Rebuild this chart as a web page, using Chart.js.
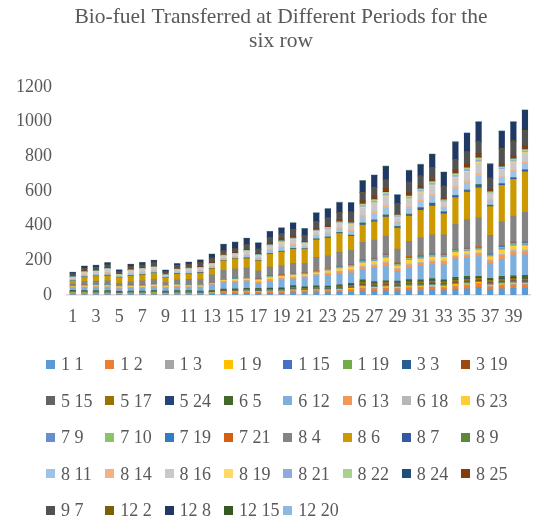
<!DOCTYPE html>
<html>
<head>
<meta charset="utf-8">
<script src="https://cdn.jsdelivr.net/npm/chart.js@4.4.1/dist/chart.umd.min.js"></script>
<style>
  body { margin: 0; background: #fff; }
  #wrap { position: relative; width: 536px; height: 522px; }
  #legend { position: absolute; left: 0; top: 0; width: 536px; height: 522px; pointer-events: none;
            font-family: "Liberation Serif", "Times New Roman", serif; font-size: 18px; color: #595959; }
  .item { position: absolute; height: 20px; line-height: 20px; white-space: nowrap; }
  .item .box { position: absolute; left: 0; top: 5.5px; width: 9px; height: 9px; }
  .item .txt { position: absolute; left: 15px; top: 0; }
</style>
</head>
<body>
<div id="wrap">
  <canvas id="chart" width="536" height="522"></canvas>
  <div id="legend"></div>
</div>
<script>
const periods = [];
for (let i = 1; i <= 40; i++) periods.push(String(i));

const titleLines = ["Bio-fuel Transferred at Different Periods for the", "six row"];
const yTicks = [0, 200, 400, 600, 800, 1000, 1200];

// series values
const s1_1  = [3,3,3,3,2,3,3,3,2,3,3,3,5,8,9,10,9,10,10,13,12,14,13,15,17,22,21,24,22,25,26,28,25,32,35,44,30,36,38,40];
const s1_2  = [5,5,4,4,4,4,4,5,4,4,4,4,5,6,7,7,7,8,8,10,9,10,10,11,12,15,13,14,13,15,15,16,15,17,18,19,16,18,19,19];
const s1_3  = [2,2,2,2,1,2,2,2,2,2,2,1,2,2,2,2,2,2,2,3,2,3,3,3,4,5,4,4,4,5,4,5,5,5,5,4,5,5,5,4];
const s1_9  = [2,2,2,2,2,2,2,2,2,2,2,2,2,2,2,3,3,3,3,4,3,4,4,4,5,7,6,6,6,7,7,7,7,7,8,6,7,7,8,6];
const s1_15 = [1,1,1,1,1,1,1,1,1,1,1,1,1,1,1,1,1,1,1,2,2,2,2,2,2,3,3,3,3,3,3,3,3,3,3,3,3,3,3,3];
const s1_19 = [1,1,1,1,1,1,1,1,1,1,1,1,1,1,1,1,1,1,1,2,2,2,2,2,2,3,2,3,3,3,3,3,3,3,3,3,3,3,3,3];
const s3_3  = [1,1,1,1,1,1,1,1,1,1,1,1,1,1,1,1,1,1,1,1,1,1,1,1,2,2,2,2,2,2,2,2,2,2,2,2,2,2,2,2];
const s3_19 = [1,1,1,1,1,1,1,1,1,1,1,1,1,1,1,1,1,1,1,2,1,2,2,2,2,3,2,3,3,3,3,3,3,3,3,3,3,3,3,3];
const s5_15 = [1,1,1,1,1,1,1,1,1,1,1,1,1,2,2,2,2,2,2,2,2,2,2,3,3,4,4,4,4,4,4,4,4,4,4,4,4,4,4,4];
const s5_17 = [4,4,4,4,3,3,3,4,3,4,4,3,3,3,4,4,4,4,4,5,5,5,5,6,7,10,9,9,9,10,10,11,10,11,11,10,11,11,11,10];
const s5_24 = [2,1,1,1,1,1,1,1,1,1,1,1,1,2,2,2,2,2,2,2,2,2,2,2,3,4,3,3,3,4,4,4,4,4,4,4,4,4,4,4];
const s6_5  = [4,4,4,4,3,3,3,4,3,4,4,3,3,5,4,4,5,5,6,8,6,6,6,7,8,10,9,7,8,8,7,9,7,11,11,5,8,11,11,15];
const s6_12 = [13,15,17,15,15,15,15,17,17,19,17,19,33,38,34,38,29,38,44,38,48,54,61,63,61,57,77,82,57,67,77,80,86,105,105,115,86,99,120,119];
const s6_13 = [3,4,5,6,4,5,5,5,4,5,5,5,3,5,8,7,8,9,9,9,9,9,10,12,13,16,15,20,12,17,17,17,17,15,16,15,15,21,20,20];
const s6_18 = [1,2,2,2,2,2,2,2,2,2,2,2,1,2,3,2,3,3,3,3,3,3,4,5,5,6,6,7,5,7,6,7,6,6,6,6,6,8,8,8];
const s6_23 = [4,6,6,7,6,7,7,7,6,6,6,6,3,6,9,8,9,11,10,11,11,10,13,15,16,19,18,24,15,21,21,21,20,18,19,18,18,26,25,25];
const s7_9  = [1,1,2,2,1,2,2,2,1,2,2,2,1,2,2,2,2,3,3,3,3,3,3,4,4,5,5,6,4,5,5,5,5,5,5,5,5,7,6,6];
const s7_10 = [1,2,2,2,2,2,2,2,2,2,2,2,1,2,2,2,2,3,3,3,3,3,3,4,4,5,5,6,4,5,5,5,5,5,5,5,5,7,6,6];
const s7_19 = [0,1,1,2,1,1,1,1,1,1,1,1,0,1,2,2,2,3,2,2,2,2,3,4,4,4,4,5,4,5,5,5,5,4,4,4,4,6,5,5];
const s7_21 = [1,1,1,2,1,2,2,2,1,1,1,1,1,1,3,2,3,3,3,3,3,3,4,4,4,6,4,7,4,7,6,7,6,4,5,4,4,7,7,7];
const s8_4  = [13,19,19,19,15,17,23,25,15,25,29,29,48,52,52,54,44,48,52,57,52,77,75,77,80,98,105,101,80,86,100,105,109,143,163,168,105,134,147,168];
const s8_6  = [15,25,27,29,33,33,34,36,29,33,29,38,34,54,57,55,57,75,77,80,82,101,101,109,80,100,105,109,121,147,159,166,121,155,159,172,166,211,212,234];
const s8_7  = [2,2,2,3,1,2,2,2,1,2,2,2,2,2,2,3,2,3,4,4,3,4,4,4,5,8,8,9,8,7,12,14,10,9,9,15,6,7,7,8];
const s8_9  = [1,1,1,1,1,1,1,1,1,1,1,1,1,1,1,1,1,2,2,2,1,2,2,2,2,4,4,4,2,4,4,4,2,4,4,5,3,3,4,4];
const s8_11 = [7,9,9,12,5,10,11,11,5,8,10,9,9,9,9,13,10,15,18,18,11,16,17,19,22,33,36,40,20,32,33,37,21,38,39,46,24,30,33,36];
const s8_14 = [2,3,3,4,1,3,3,3,1,2,3,3,3,3,3,4,3,5,6,6,3,5,5,6,7,10,11,12,6,10,10,12,7,12,12,15,7,9,10,11];
const s8_16 = [9,12,12,15,6,13,14,14,6,10,13,12,11,12,12,17,13,20,24,24,14,20,22,24,29,43,46,52,25,41,42,48,27,49,50,60,30,38,42,46];
const s8_19 = [1,1,1,2,1,2,2,2,1,1,2,1,1,1,1,2,2,2,3,3,2,2,2,3,3,5,5,6,3,5,5,6,3,6,6,7,3,4,5,5];
const s8_21 = [2,2,2,3,1,2,2,2,1,2,2,2,2,2,2,3,2,3,4,4,3,4,4,4,5,8,8,9,5,7,8,9,5,9,9,11,5,7,7,8];
const s8_22 = [2,3,3,3,1,3,3,3,1,2,3,3,2,3,3,4,3,4,5,5,3,4,5,5,6,10,10,12,6,9,9,11,6,11,11,14,7,9,10,10];
const s8_24 = [1,1,1,1,0,1,1,1,0,1,1,1,1,1,1,1,1,1,2,2,1,1,1,2,2,3,3,3,2,3,3,3,2,3,3,4,2,2,3,3];
const s8_25 = [2,4,4,4,2,5,5,5,2,4,5,4,4,4,4,6,5,8,9,9,5,7,9,9,11,15,18,19,7,15,14,15,7,17,18,20,11,15,15,18];
const s9_7  = [13,13,13,13,13,11,11,19,13,15,15,19,25,19,19,25,25,33,29,36,34,40,44,42,48,48,48,48,57,61,57,61,69,61,69,67,65,86,84,86];
const s12_2 = [1,1,1,1,1,1,1,1,1,1,1,1,1,1,1,1,1,1,1,1,1,1,1,1,1,2,2,2,1,2,2,2,2,2,2,2,2,2,2,2];
const s12_8 = [7,11,11,11,9,13,13,9,9,9,11,15,20,35,37,35,33,31,31,37,37,47,50,55,51,63,67,74,47,63,61,74,76,97,105,111,78,97,107,116];
const s12_15 = [1,1,1,1,1,1,1,1,1,1,1,1,1,1,1,1,1,1,1,1,1,1,1,1,1,2,2,2,2,2,2,2,2,2,2,2,2,2,2,2];
const s12_20 = [2,2,2,2,2,2,2,2,2,2,2,2,3,3,3,3,3,3,3,3,3,3,3,4,4,4,4,4,4,4,4,4,4,4,4,4,4,4,4,4];

const seriesNames = ["1 1","1 2","1 3","1 9","1 15","1 19","3 3","3 19",
  "5 15","5 17","5 24","6 5","6 12","6 13","6 18","6 23",
  "7 9","7 10","7 19","7 21","8 4","8 6","8 7","8 9",
  "8 11","8 14","8 16","8 19","8 21","8 22","8 24","8 25",
  "9 7","12 2","12 8","12 15","12 20"];
const seriesValues = [s1_1,s1_2,s1_3,s1_9,s1_15,s1_19,s3_3,s3_19,
  s5_15,s5_17,s5_24,s6_5,s6_12,s6_13,s6_18,s6_23,
  s7_9,s7_10,s7_19,s7_21,s8_4,s8_6,s8_7,s8_9,
  s8_11,s8_14,s8_16,s8_19,s8_21,s8_22,s8_24,s8_25,
  s9_7,s12_2,s12_8,s12_15,s12_20];
const seriesColors = ["#5B9BD5","#ED7D31","#A5A5A5","#FFC000","#4472C4","#70AD47","#255E91","#9E480E",
  "#636363","#997300","#264478","#43682B","#7CAFDD","#F1975A","#B7B7B7","#FFCD33",
  "#698ED0","#8CC168","#327DC2","#D26012","#848484","#CC9A00","#335AA1","#5A8A39",
  "#9DC3E6","#F4B183","#C9C9C9","#FFD966","#8FAADC","#A9D18E","#1F4E79","#843C0C",
  "#525252","#7F6000","#203864","#385723","#8DB8E3"];

const textColor = "#595959";
const serif = "'Liberation Serif', 'Times New Roman', serif";

const datasets = seriesNames.map((name, i) => ({
  label: name,
  data: seriesValues[i],
  backgroundColor: seriesColors[i],
  borderWidth: 0,
  barThickness: 5.5
}));

// title sits a little left of the plot centre in the original, so draw it ourselves
const titlePlugin = {
  id: "offsetTitle",
  afterDraw(chart) {
    const c = chart.ctx;
    c.save();
    c.fillStyle = textColor;
    c.font = "21.5px " + serif;
    c.textAlign = "center";
    c.textBaseline = "middle";
    titleLines.forEach((line, i) => c.fillText(line, 281, 17 + i * 24.5));
    c.restore();
  }
};

new Chart(document.getElementById("chart"), {
  type: "bar",
  data: { labels: periods, datasets: datasets },
  options: {
    responsive: false,
    animation: false,
    devicePixelRatio: 1,
    layout: { padding: { left: 0, right: 2, top: 87, bottom: 192 } },
    plugins: {
      legend: { display: false },
      tooltip: { enabled: false },
      title: { display: false }
    },
    scales: {
      x: {
        stacked: true,
        grid: { display: false, drawTicks: false },
        border: { color: "#d9d9d9", width: 1.5 },
        ticks: {
          autoSkip: false, maxRotation: 0, padding: 11,
          color: textColor, font: { family: serif, size: 18 },
          callback: (v, i) => (i % 2 === 0 ? periods[i] : "")
        },
        afterFit: s => { s.height = 35; }
      },
      y: {
        stacked: true,
        min: yTicks[0], max: yTicks[yTicks.length - 1],
        grid: { display: false, drawTicks: false },
        border: { display: false },
        ticks: {
          stepSize: 200, padding: 15, color: textColor, font: { family: serif, size: 18 },
          callback: v => String(v)
        },
        afterFit: s => { s.width = 67; }
      }
    }
  },
  plugins: [titlePlugin]
});

// legend: 8 columns, Excel style
const legend = document.getElementById("legend");
seriesNames.forEach((name, i) => {
  const col = i % 8, row = Math.floor(i / 8);
  const item = document.createElement("div");
  item.className = "item";
  item.style.left = (46 + col * 59.3) + "px";
  item.style.top = (354 + row * 36.6) + "px";
  item.innerHTML = '<span class="box" style="background:' + seriesColors[i] + '"></span><span class="txt">' + name + '</span>';
  legend.appendChild(item);
});
</script>
</body>
</html>
